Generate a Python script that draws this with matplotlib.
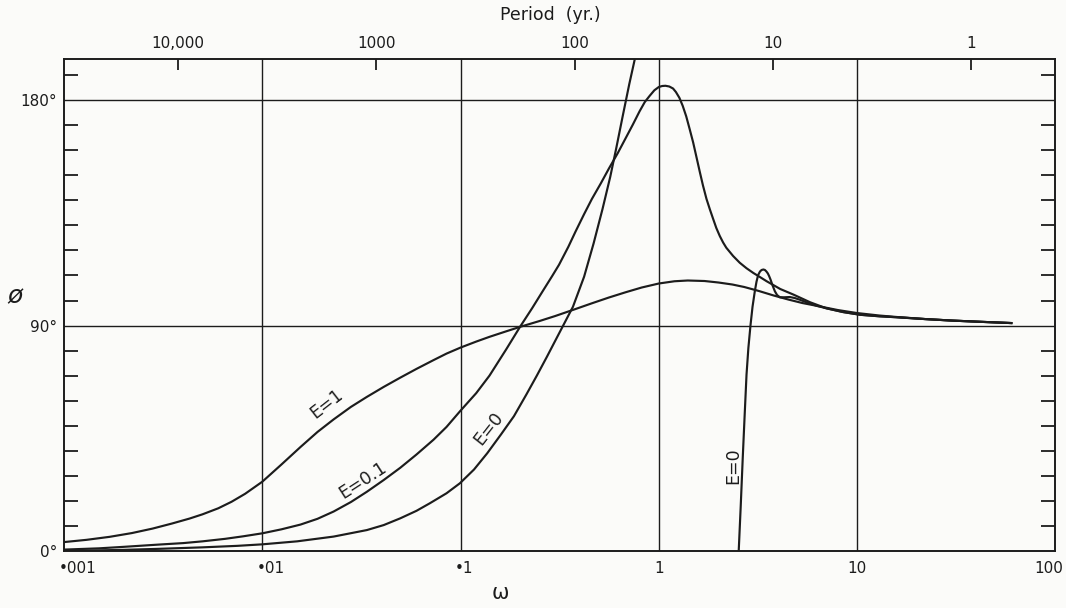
import numpy as np
import matplotlib
matplotlib.use('Agg')
import matplotlib.pyplot as plt
from matplotlib.ticker import NullLocator
from matplotlib.transforms import ScaledTranslation

# phase lag phi (degrees) against frequency omega
w_e1 = [0.001, 0.0013, 0.0017, 0.0022, 0.0028, 0.0035, 0.0043, 0.005, 0.006, 0.007,
        0.0082, 0.01, 0.0125, 0.0156, 0.019, 0.0229, 0.028, 0.0337, 0.041, 0.0497,
        0.06, 0.0731, 0.085, 0.1, 0.12, 0.14, 0.17, 0.2, 0.25, 0.3,
        0.38, 0.46, 0.56, 0.68, 0.82, 1.0, 1.2, 1.4, 1.7, 2.0,
        2.35, 2.7, 3.2, 3.8, 4.5, 5.3, 6.25, 8, 10, 13,
        16, 22, 30, 42, 60]
phi_e1 = [3.5, 4.4, 5.6, 7.1, 8.9, 10.9, 12.9, 14.6, 17.0, 19.6,
          22.8, 27.6, 34.5, 41.5, 47.5, 52.5, 57.5, 61.5, 65.5, 69.2,
          72.7, 76.2, 78.8, 81.2, 83.6, 85.5, 87.7, 89.5, 91.8, 93.8,
          96.6, 98.9, 101.2, 103.3, 105.2, 106.8, 107.7, 108.0, 107.8, 107.2,
          106.4, 105.4, 103.8, 102.0, 100.4, 99.0, 97.9, 96.2, 95.0, 94.0,
          93.4, 92.6, 92.0, 91.5, 91.0]

w_e01 = [0.001, 0.0015, 0.002, 0.003, 0.004, 0.005, 0.0065, 0.008, 0.01, 0.0125,
         0.0156, 0.019, 0.0229, 0.028, 0.0337, 0.041, 0.0497, 0.06, 0.0731, 0.085,
         0.1, 0.12, 0.14, 0.17, 0.2, 0.23, 0.26, 0.29, 0.314, 0.35,
         0.38, 0.42, 0.46, 0.51, 0.56, 0.62, 0.68, 0.74, 0.80, 0.85,
         0.90, 0.95, 1.0, 1.04, 1.08, 1.13, 1.18, 1.22, 1.27, 1.32,
         1.375, 1.43, 1.49, 1.55, 1.61, 1.67, 1.74, 1.81, 1.88, 1.95,
         2.03, 2.11, 2.19, 2.37, 2.56, 2.77, 3.0, 3.25, 3.5, 4.1,
         4.8, 5.8, 7.0, 8.5, 10.4, 13, 16, 22, 30, 42,
         60]
phi_e01 = [0.5, 1.0, 1.6, 2.5, 3.1, 3.8, 4.8, 5.8, 7.0, 8.6,
           10.5, 12.8, 15.7, 19.5, 23.6, 28.3, 33.2, 38.5, 44.4, 49.5,
           56.0, 63.0, 70.0, 80.5, 89.6, 97.0, 103.8, 109.8, 114.3, 121.5,
           127.5, 134.5, 140.6, 146.8, 152.7, 158.8, 164.8, 170.3, 175.6, 179.3,
           181.8, 184.0, 185.3, 185.7, 185.8, 185.5, 184.7, 183.3, 181.0, 177.8,
           173.6, 168.6, 163.2, 157.2, 151.4, 146.0, 140.6, 136.4, 132.6, 129.0,
           125.8, 123.2, 121.1, 117.8, 115.1, 112.9, 111.0, 109.3, 107.7, 104.6,
           102.3, 99.3, 96.9, 95.4, 94.3, 93.7, 93.3, 92.6, 92.0, 91.5,
           91.0]

# E = 0 has two branches
w_e0a = [0.001, 0.0015, 0.002, 0.003, 0.005, 0.0075, 0.01, 0.015, 0.0229, 0.0337,
         0.041, 0.0497, 0.06, 0.07, 0.085, 0.0993, 0.117, 0.1364, 0.16, 0.186,
         0.215, 0.2426, 0.2726, 0.31, 0.369, 0.42, 0.469, 0.52, 0.569, 0.61,
         0.657, 0.71, 0.767]
phi_e0a = [0.0, 0.2, 0.4, 0.8, 1.4, 2.0, 2.6, 3.8, 5.7, 8.3,
           10.3, 13.0, 16.0, 19.0, 23.0, 27.0, 32.5, 39.0, 46.5, 53.8,
           62.5, 70.0, 77.5, 86.0, 97.5, 109.5, 122.8, 136.5, 149.4, 160.8,
           173.5, 186.5, 198.5]

w_e0b = [2.53, 2.59, 2.65, 2.71, 2.77, 2.83, 2.90, 2.97, 3.05, 3.11,
         3.17, 3.24, 3.30, 3.37, 3.43, 3.49, 3.55, 3.60, 3.66, 3.75,
         3.85, 3.95, 4.08, 4.3, 4.58, 4.85, 5.15, 5.6, 6.25, 7.0,
         8.5, 10.4, 13, 16, 22, 30, 42, 60]
phi_e0b = [0.0, 18.0, 36.8, 54.0, 70.4, 81.0, 90.0, 97.5, 103.7, 107.5,
           110.2, 111.6, 112.2, 112.4, 112.2, 111.6, 110.8, 109.8, 108.4, 106.0,
           103.7, 102.2, 101.3, 101.3, 101.4, 101.0, 100.3, 99.2, 97.9, 96.9,
           95.4, 94.3, 93.7, 93.3, 92.6, 92.0, 91.5, 91.0]

omega_ticks = [0.001, 0.01, 0.1, 1, 10, 100]
omega_labels = ['•001', '•01', '•1', '1', '10', '100']
period_ticks = [10000, 1000, 100, 10, 1]
period_labels = ['10,000', '1000', '100', '10', '1']
period_const = 37.6  # period (yr) = period_const / omega

ink = '#1c1c1c'
paper = '#fbfbf9'

fig = plt.figure(figsize=(10.66, 6.08), dpi=100)
fig.patch.set_facecolor(paper)
ax = fig.add_axes([0.060, 0.094, 0.930, 0.809])
ax.set_facecolor(paper)
ax.set_xscale('log')
ax.set_xlim(0.001, 100)
ax.set_ylim(0, 196.5)

# grid
for g in [0.01, 0.1, 1, 10]:
    ax.axvline(g, color=ink, lw=1.0, zorder=1)
for g in [90, 180]:
    ax.axhline(g, color=ink, lw=1.0, zorder=1)

# curves
for w, p in [(w_e1, phi_e1), (w_e01, phi_e01), (w_e0a, phi_e0a), (w_e0b, phi_e0b)]:
    ax.plot(w, p, color=ink, lw=1.55, zorder=3)

# curve labels
lab = dict(color=ink, fontsize=12.5, rotation_mode='anchor', ha='center', va='bottom')
ax.text(0.0226, 56.0, 'E=1', rotation=38, **lab)
ax.text(0.0342, 25.2, 'E=0.1', rotation=33, **lab)
ax.text(0.150, 46.5, 'E=0', rotation=52, **lab)
ax.text(2.625, 34, 'E=0', rotation=90, **lab)

for s in ax.spines.values():
    s.set_linewidth(1.2)
    s.set_color(ink)

# bottom axis
ax.set_xticks(omega_ticks)
ax.set_xticklabels(omega_labels)
ax.xaxis.set_minor_locator(NullLocator())
ax.tick_params(axis='x', which='major', length=0, pad=7, labelsize=11, labelcolor=ink)
shift = ScaledTranslation(-4 / 72, 0, fig.dpi_scale_trans)
for t in ax.get_xticklabels()[:3]:
    t.set_ha('left')
    t.set_transform(t.get_transform() + shift)
last = ax.get_xticklabels()[-1]
last.set_transform(last.get_transform() + ScaledTranslation(-5 / 72, 0, fig.dpi_scale_trans))

# left / right axis
ax.set_yticks([0, 90, 180])
ax.set_yticklabels(['0°', '90°', '180°'])
ax.set_yticks([v for v in range(10, 200, 10) if v not in (90, 180)], minor=True)
ax.tick_params(axis='y', which='major', length=0, pad=5, labelsize=11, labelcolor=ink)
ax.tick_params(axis='y', which='minor', direction='in', length=10, width=1.3,
               left=True, right=True, color=ink)

ax.set_xlabel('ω', fontsize=15, color=ink)
ax.xaxis.set_label_coords(0.44, -0.066)
ax.set_ylabel('ø', fontsize=18, rotation=0, color=ink, style='italic', va='center', ha='center')
ax.yaxis.set_label_coords(-0.049, 0.518)

# top axis: period in years
ax2 = ax.twiny()
ax2.set_xscale('log')
ax2.set_xlim(period_const / 0.001, period_const / 100)
ax2.set_xticks(period_ticks)
ax2.set_xticklabels(period_labels)
ax2.xaxis.set_minor_locator(NullLocator())
ax2.tick_params(axis='x', which='major', direction='in', length=8, width=1.3,
                pad=6, labelsize=11, color=ink, labelcolor=ink)
for s in ax2.spines.values():
    s.set_linewidth(1.2)
    s.set_color(ink)

fig.text(0.516, 0.975, 'Period  (yr.)', ha='center', va='center', fontsize=12.5, color=ink)

fig.savefig('out.png', dpi=100, facecolor=paper)
